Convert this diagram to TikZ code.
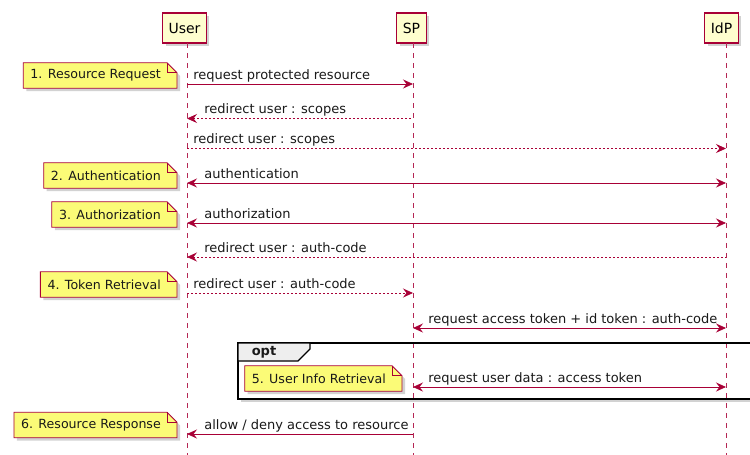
\documentclass[tikz,border=0pt]{standalone}
\usepackage{fontspec}
\setmainfont{DejaVu Sans}
\usetikzlibrary{arrows.meta,shadows,backgrounds}
\definecolor{umlred}{HTML}{A80036}
\definecolor{partfill}{HTML}{FEFECE}
\definecolor{notefill}{HTML}{FBFB77}
\definecolor{tabfill}{HTML}{EEEEEE}
\tikzset{
	seqtip/.tip={Stealth[length=10pt,width=9pt,inset=3.5pt]},
	softshadow/.style={drop shadow={shadow xshift=3pt, shadow yshift=-3pt, fill=black!35, opacity=0.5}}
}
\begin{document}
\begin{tikzpicture}[x=1pt, y=-1pt,
	txt/.style={font=\fontsize{13}{15}\selectfont, text=black!90},
	participant/.style={draw=umlred, fill=partfill, line width=1.2pt, minimum height=30pt, inner xsep=6pt, font=\fontsize{14}{16}\selectfont, softshadow},
	lifeline/.style={umlred!85, line width=0.9pt, dash pattern=on 5pt off 5pt},
	msg/.style={umlred, line width=0.8pt},
	reply/.style={umlred, line width=0.8pt, dash pattern=on 2pt off 2pt},
	lbl/.style={txt, inner sep=0pt, anchor=base west, yshift=5pt},
	note/.style={txt, font=\fontsize{12.6}{15}\selectfont, inner xsep=7pt, inner ysep=0pt, minimum height=25pt, anchor=east},
	notebox/.style={draw=umlred, fill=notefill, line width=0.8pt, softshadow}
	]
	
	\useasboundingbox (0,0) rectangle (750,455);
	
	\node[participant] (user) at (184.5,28) {User};
	\node[participant] (sp) at (411.5,28) {SP};
	\node[participant] (idp) at (721.5,28) {IdP};
	\coordinate (userL) at (187,43);
	\coordinate (spL) at (413,43);
	\coordinate (idpL) at (726,43);
	
	\draw[lifeline] (userL) -- (userL |- 0,456);
	\draw[lifeline] (spL) -- (spL |- 0,456);
	\draw[lifeline] (idpL) -- (idpL |- 0,456);
	
	\draw[msg, -seqtip] (userL |- 0,84) -- (spL |- 0,84) node[lbl, at start, xshift=6pt] (m1) {request protected resource};
	\draw[reply, seqtip-] (userL |- 0,118.5) -- (spL |- 0,118.5) node[lbl, at start, xshift=17pt] (m2) {redirect user : scopes};
	\draw[reply, -seqtip] (userL |- 0,148.5) -- (idpL |- 0,148.5) node[lbl, at start, xshift=6pt] (m3) {redirect user : scopes};
	\draw[msg, seqtip-seqtip] (userL |- 0,183) -- (idpL |- 0,183) node[lbl, at start, xshift=17pt] (m4) {authentication};
	\draw[msg, seqtip-seqtip] (userL |- 0,223) -- (idpL |- 0,223) node[lbl, at start, xshift=17pt] (m5) {authorization};
	\draw[reply, seqtip-] (userL |- 0,257) -- (idpL |- 0,257) node[lbl, at start, xshift=17pt] (m6) {redirect user : auth-code};
	\draw[reply, -seqtip] (userL |- 0,293) -- (spL |- 0,293) node[lbl, at start, xshift=6pt] (m7) {redirect user : auth-code};
	\draw[msg, seqtip-seqtip] (spL |- 0,328) -- (idpL |- 0,328) node[lbl, at start, xshift=15pt] (m8) {request access token + id token : auth-code};
	\draw[msg, seqtip-seqtip] (spL |- 0,387) -- (idpL |- 0,387) node[lbl, at start, xshift=15pt] (m9) {request user data : access token};
	\draw[msg, seqtip-] (userL |- 0,434) -- (spL |- 0,434) node[lbl, at start, xshift=17pt] (m10) {allow / deny access to resource};
	
	\draw[line width=1.5pt] (238,343) rectangle (765,399);
	\filldraw[fill=tabfill, line width=1.2pt] (238,343) -- (310,343) -- (310,349) -- (298,361) -- (238,361) -- cycle;
	\node[txt, font=\fontsize{13}{15}\selectfont\bfseries] (opt) at (264,352) {opt};
	
	\node[note] (n1) at (168,75.5) {1. Resource Request};
	\node[note] (n2) at (168,175.5) {2. Authentication};
	\node[note] (n3) at (168,214.5) {3. Authorization};
	\node[note] (n4) at (168,284.5) {4. Token Retrieval};
	\node[note] (n5) at (393,378.5) {5. User Info Retrieval};
	\node[note] (n6) at (168,425) {6. Resource Response};
	
	\begin{pgfonlayer}{background}
		\fill[white] (0,0) rectangle (750,455);
		\fill[white, softshadow] (238,343) rectangle (765,399);
		\foreach \n in {n1,n2,n3,n4,n5,n6} {
			\path[notebox] (\n.south west) -- (\n.north west) -- ([xshift=-1pt]\n.north east) -- ([xshift=9pt,yshift=-10pt]\n.north east) -- ([xshift=9pt]\n.south east) -- cycle;
			\draw[umlred, line width=0.8pt] ([xshift=-1pt]\n.north east) -- ([xshift=-1pt,yshift=-10pt]\n.north east) -- ([xshift=9pt,yshift=-10pt]\n.north east);
		}
	\end{pgfonlayer}
	
\end{tikzpicture}
\end{document}
